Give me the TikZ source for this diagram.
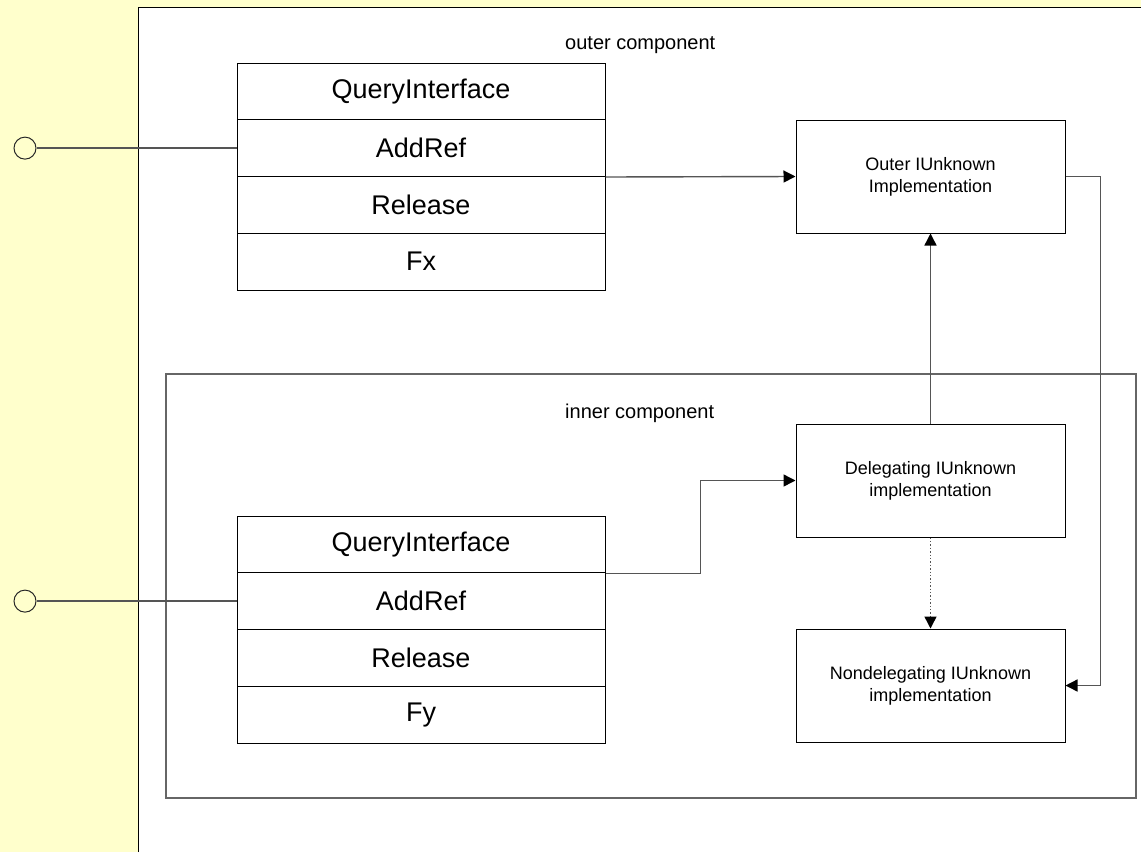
\documentclass[tikz,border=0pt]{standalone}
\usepackage{fontspec}
\setmainfont{Liberation Sans}
\usetikzlibrary{arrows.meta}
\definecolor{bgyellow}{HTML}{FFFFCC}
\definecolor{linegray}{HTML}{555555}
\begin{document}
\begin{tikzpicture}[x=1pt,y=-1pt,
  row/.style={draw=black,line width=1pt,minimum width=368pt,minimum height=56.75pt,inner sep=0pt,font=\fontsize{27}{31}\selectfont},
  impl/.style={draw=black,line width=1pt,minimum width=269pt,minimum height=113pt,inner sep=0pt,align=center,font=\fontsize{18}{22}\selectfont},
  conn/.style={draw=linegray,line width=1.4pt},
  tip/.style={-{Triangle[length=12pt,width=12pt,color=black]}},
  lbl/.style={font=\fontsize{20}{24}\selectfont,anchor=base west,inner sep=0pt},
  port/.style={circle,draw=black!85,line width=1pt,minimum size=22pt,inner sep=0pt},
  container/.style={draw=black!60,line width=1.6pt}]
\fill[bgyellow] (0,0) rectangle (1141,852);
\useasboundingbox (0,0) rectangle (1141,852);
\fill[white] (138,7) rectangle (1141,852);
\draw[black,line width=1pt] (138,852) -- (138,7) -- (1141,7);
\draw[container] (166,374) rectangle (1136,798);
\node[lbl] (outlbl) at (565,49) {outer component};
\node[lbl] (inlbl) at (565,418) {inner component};
% table 1
\node[row] (t1a) at (421,91.375) {QueryInterface};
\node[row] (t1b) at (421,148.125) {AddRef};
\node[row] (t1c) at (421,204.875) {Release};
\node[row] (t1d) at (421,261.625) {Fx};
% table 2
\node[row] (t2a) at (421,544.375) {QueryInterface};
\node[row] (t2b) at (421,601.125) {AddRef};
\node[row] (t2c) at (421,657.875) {Release};
\node[row] (t2d) at (421,714.625) {Fy};
% ports
\node[port] (p1) at (25,148.125) {};
\node[port] (p2) at (25,601.125) {};
% implementation boxes
\node[impl] (oimp) at (930.5,176.5) {Outer IUnknown\\Implementation};
\node[impl] (dimp) at (930.5,480.5) {Delegating IUnknown\\implementation};
\node[impl] (nimp) at (930.5,685.5) {Nondelegating IUnknown\\implementation};
% connectors
\draw[conn] (p1.east) -- (t1b.west);
\draw[conn] (p2.east) -- (t2b.west);
\draw[conn,tip] (t1b.south east) -- (oimp.west);
\draw[conn,tip] (oimp.east) -- ++(35,0) |- (nimp.east);
\draw[conn,tip] (dimp.north) -- (oimp.south);
\draw[conn,tip,dotted] (dimp.south) -- (nimp.north);
\draw[conn,tip] (t2a.south east) -- ++(95,0) |- (dimp.west);
\end{tikzpicture}
\end{document}
